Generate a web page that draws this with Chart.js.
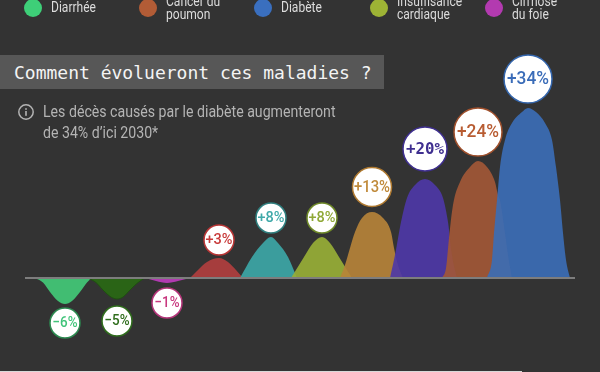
<!DOCTYPE html>
<html lang="fr">
<head>
<meta charset="utf-8">
<title>Comment évolueront ces maladies ?</title>
<script src="https://cdn.jsdelivr.net/npm/chart.js@4"></script>
<style>
  html, body { margin: 0; padding: 0; background: #333333; }
  #page { position: relative; width: 600px; height: 372px; overflow: hidden; background: #333333; font-family: Roboto, sans-serif; }
  #forecast { position: absolute; left: 0; top: 0; }
  .dot { position: absolute; top: -1.5px; width: 18px; height: 18px; border-radius: 50%; }
  .leg { position: absolute; color: #dcdcdc; font-size: 14px; line-height: 12.5px; transform: scaleX(.86); transform-origin: left top; white-space: nowrap; }
  #title-box { position: absolute; left: 0; top: 55px; width: 384px; height: 34px; background: #575757; }
  #title { position: absolute; left: 14px; top: 7px; color: #f4f4f4; font: 18px/21px "DejaVu Sans Mono", monospace; white-space: nowrap; }
  #note { position: absolute; left: 42.5px; top: 101px; color: #b4b4b4; font-size: 16.5px; line-height: 21px; transform: scaleX(.857); transform-origin: left top; white-space: nowrap; }
  #info { position: absolute; left: 17px; top: 103px; }
  #bottom-line { position: absolute; left: 0; top: 371px; width: 522px; height: 1px; background: #d8d8d8; }
</style>
</head>
<body>
<div id="page">
  <canvas id="forecast" width="600" height="372"></canvas>
  <div id="legend"></div>
  <div id="title-box"><div id="title">Comment évolueront ces maladies ?</div></div>
  <svg id="info" width="18" height="18" viewBox="0 0 18 18">
    <circle cx="9" cy="9" r="7.2" fill="none" stroke="#b4b4b4" stroke-width="1.5"/>
    <rect x="8.2" y="8" width="1.6" height="4.8" fill="#b4b4b4"/>
    <rect x="8.2" y="5.2" width="1.6" height="1.6" fill="#b4b4b4"/>
  </svg>
  <div id="note">Les décès causés par le diabète augmenteront<br>de 34% d’ici 2030*</div>
  <div id="bottom-line"></div>
</div>
<script>
// Legend
const legendNames = ['Diarrhée', 'Cancer du<br>poumon', 'Diabète', 'Insuffisance<br>cardiaque', 'Cirrhose<br>du foie'];

// Humps, left to right. Values in %
const diarrheeX = [35, 43, 50, 58, 65, 72, 80, 87, 92];
const diarrheeY = [0, -0.9, -2.8, -4.6, -5.2, -4.6, -2.8, -0.9, 0];
const tuberculoseX = [88, 96, 103, 111, 117, 123, 130, 138, 145];
const tuberculoseY = [0, -0.9, -2.4, -3.8, -4.2, -3.8, -2.4, -0.9, 0];
const cirrhoseX = [145, 156, 167, 178, 190];
const cirrhoseY = [0, -0.6, -1, -0.6, 0];
const sidaX = [190, 198, 207, 219, 228, 236, 243];
const sidaY = [0, 1.6, 3.2, 4, 3.2, 1.6, 0];
const tetraX = [240, 252, 263, 271, 278, 288, 297];
const tetraY = [0, 4.2, 7, 8.2, 7, 4.2, 0];
const cardiaqueX = [291, 304, 313, 322, 330, 339, 352];
const cardiaqueY = [0, 4.2, 7, 8.2, 7, 4.2, 0];
const ocreX = [340, 345, 350, 355, 362, 372, 383, 391, 394, 398, 403];
const ocreY = [0, 2.6, 6, 9.2, 12, 13.2, 12, 9.2, 6, 2.6, 0];
const violetX = [390, 395, 401, 407, 415, 425, 435, 443, 448, 452, 457];
const violetY = [0, 4.6, 11.2, 16, 18.6, 19.8, 18.6, 16, 11.2, 4.6, 0];
const cancerX = [442, 446, 449, 453, 460, 470, 478, 487, 495, 498, 500, 505, 508, 512];
const cancerY = [0, 2, 8, 14.6, 19.2, 22.2, 23.4, 22.2, 19.2, 16.6, 15.6, 9, 4.6, 0];
const diabeteX = [487, 492, 494, 497, 500, 505, 512, 522, 528, 536, 545, 552, 556, 560, 563, 566, 570];
const diabeteY = [0, 3.6, 9, 15.6, 22.2, 27.6, 31, 33.2, 34, 33.2, 31, 27.6, 22.2, 15.6, 9, 3.6, 0];

// Badges
const badgeLabels = ['−6%', '−5%', '−1%', '+3%', '+8%', '+8%', '+13%', '+20%', '+24%', '+34%'];

const allX = [diarrheeX, tuberculoseX, cirrhoseX, sidaX, tetraX, cardiaqueX, ocreX, violetX, cancerX, diabeteX];
const allY = [diarrheeY, tuberculoseY, cirrhoseY, sidaY, tetraY, cardiaqueY, ocreY, violetY, cancerY, diabeteY];

// Styles
const fills = ['rgba(67,204,121,.9)', 'rgba(41,105,19,.9)', 'rgba(190,59,190,.9)', 'rgba(179,62,62,.9)', 'rgba(60,168,168,.9)',
    'rgba(153,176,54,.9)', 'rgba(184,132,56,.9)', 'rgba(78,55,168,.9)', 'rgba(163,88,54,.9)', 'rgba(59,110,184,.9)'];
const rings = ['#2c8a50', '#2f6d1c', '#b5357a', '#b83535', '#2f7f7f', '#6f8a28', '#b07a30', '#3f2f90', '#a0502c', '#3466ad'];
const inks = ['#41c47a', '#2f6d1c', '#c8387f', '#c83a3a', '#3fa9a9', '#8fa836', '#c08a3a', '#3f2f90', '#b85c32', '#3a6cb8'];
const radii = [15, 15, 15, 15, 15, 15, 19.5, 22, 24, 24];
const gaps = [4, 7, 5, 3, 4, 4, 5.5, 8, 5, 5];
const fontSizes = [15.5, 15.5, 15.5, 15.5, 15.5, 15.5, 16.5, 16, 18, 19];
const textWidths = [25, 25, 25, 27, 27, 27, 36, 38, 42, 42];
const legendDots = ['#3ecf78', '#b25c36', '#3a6fbf', '#9db335', '#b33ab0'];

// Legend items
const legend = document.getElementById('legend');
legendNames.forEach((name, i) => {
    const left = 23.5 + i * 115.4;
    const dot = document.createElement('div');
    dot.className = 'dot';
    dot.style.left = left + 'px';
    dot.style.background = legendDots[i];
    legend.appendChild(dot);
    const text = document.createElement('div');
    text.className = 'leg';
    text.style.left = (left + 27) + 'px';
    text.style.top = name.includes('<br>') ? '-5px' : '1px';
    text.innerHTML = name;
    legend.appendChild(text);
});

// Round labels above and below the humps
const badgePlugin = {
    id: 'badges',
    afterDatasetsDraw(chart) {
        const ctx = chart.ctx;
        const xScale = chart.scales.x;
        const yScale = chart.scales.y;
        allY.forEach((ys, i) => {
            const peak = ys.reduce((a, b) => Math.abs(b) > Math.abs(a) ? b : a, 0);
            const px = xScale.getPixelForValue(allX[i][ys.indexOf(peak)]);
            const sign = peak < 0 ? 1 : -1;
            const py = yScale.getPixelForValue(peak) + sign * (radii[i] + gaps[i]);
            ctx.save();
            ctx.beginPath();
            ctx.arc(px, py, radii[i], 0, Math.PI * 2);
            ctx.fillStyle = '#ffffff';
            ctx.fill();
            ctx.lineWidth = 1.5;
            ctx.strokeStyle = rings[i];
            ctx.stroke();
            ctx.fillStyle = inks[i];
            ctx.textAlign = 'center';
            ctx.textBaseline = 'middle';
            ctx.font = i === 7 ? `bold ${fontSizes[i]}px "DejaVu Sans Mono"` : `500 ${fontSizes[i]}px Roboto`;
            ctx.fillText(badgeLabels[i], px, py + 0.5, textWidths[i]);
            ctx.restore();
        });
    }
};

const datasets = allX.map((xs, i) => ({
    data: xs.map((x, k) => ({ x: x, y: allY[i][k] })),
    backgroundColor: fills[i],
    borderColor: i === 1 ? '#1f5210' : fills[i],
    borderWidth: i === 1 ? 1 : 0,
    pointRadius: 0,
    fill: 'origin',
    cubicInterpolationMode: 'monotone',
    order: 20 - i
}));

// Zero line
datasets.push({
    data: [{ x: 25, y: 0 }, { x: 575, y: 0 }],
    borderColor: '#7d7d7d',
    borderWidth: 2,
    pointRadius: 0,
    fill: false,
    order: 0
});

new Chart(document.getElementById('forecast'), {
    type: 'line',
    data: { datasets: datasets },
    plugins: [badgePlugin],
    options: {
        responsive: false,
        animation: false,
        layout: { padding: 0 },
        plugins: { legend: { display: false }, title: { display: false }, tooltip: { enabled: false } },
        scales: {
            x: { type: 'linear', display: false, min: 0, max: 600 },
            y: { type: 'linear', display: false, min: -18.8, max: 55.6 }
        }
    }
});
</script>
</body>
</html>
